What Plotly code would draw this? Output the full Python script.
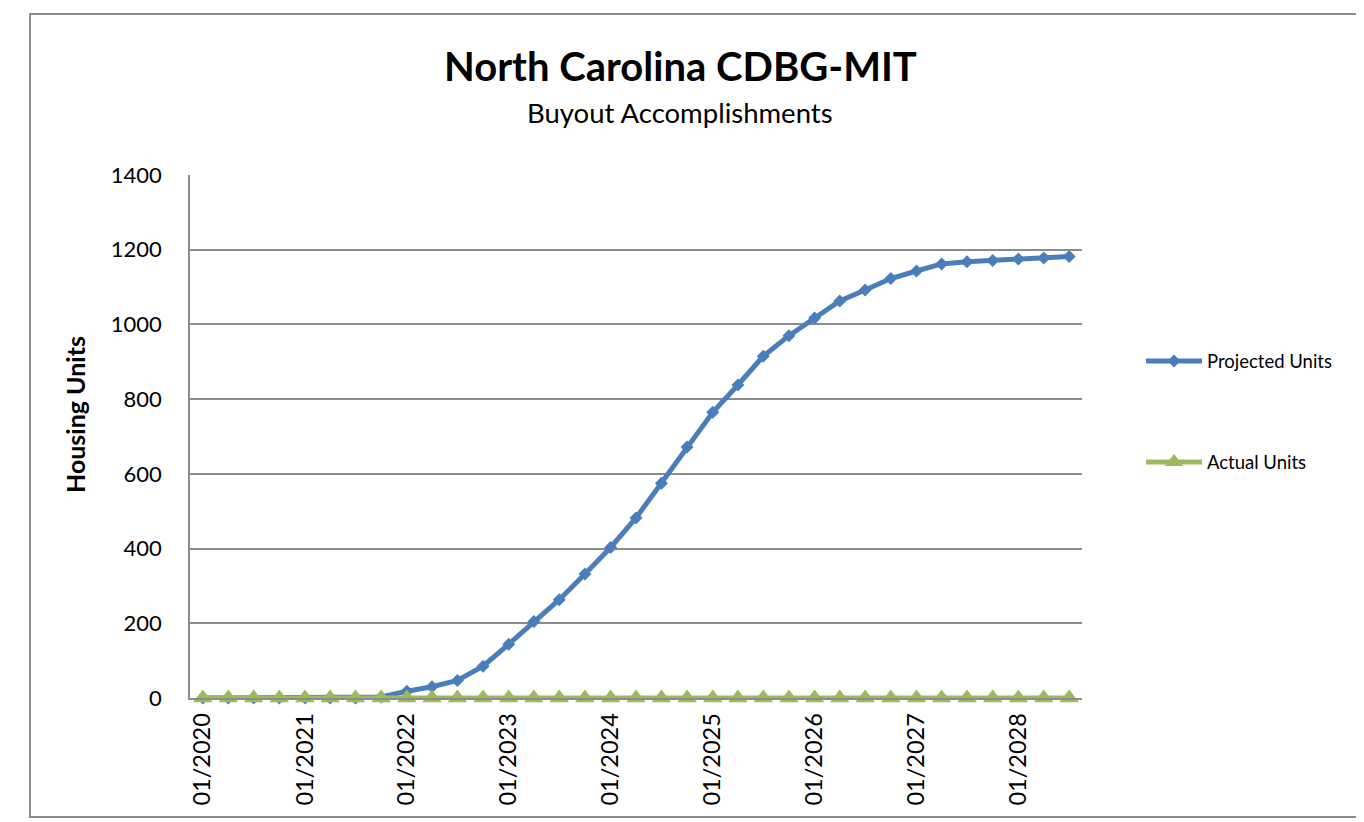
import plotly.graph_objects as go

# Quarterly dates 01/2020 .. 07/2028
dates = [f"{y}-{m:02d}-01" for y in range(2020, 2029) for m in (1, 4, 7, 10)][:35]

projected_units = [0, 0, 0, 0, 0, 0, 0, 3,
                   18, 30, 47, 85,
                   144, 205, 263, 332,
                   403, 482, 575, 672,
                   765, 838, 915, 970,
                   1017, 1063, 1092, 1123,
                   1143, 1162, 1168, 1171,
                   1175, 1178, 1182]
actual_units = [0] * 35

y_ticks = [0, 200, 400, 600, 800, 1000, 1200, 1400]

BLUE = "#4a7ebb"
GREEN = "#9bbb59"
GRID = "#8c8c8c"
FONT = "Lato"

fig = go.Figure()
fig.add_trace(go.Scatter(
    x=dates, y=projected_units, name="Projected Units", mode="lines+markers",
    line=dict(color=BLUE, width=5),
    marker=dict(symbol="diamond", size=10, color=BLUE),
    legendgroup="a", cliponaxis=False,
))
fig.add_trace(go.Scatter(
    x=dates, y=actual_units, name="Actual Units", mode="lines+markers",
    line=dict(color=GREEN, width=5),
    marker=dict(symbol="triangle-up", size=17, color=GREEN, line=dict(width=0)),
    legendgroup="b", cliponaxis=False,
))

OFF = 8  # page body margin
W, H = 1364 - OFF, 822 - OFF
# target page coordinates of plot area
L, R, T, B = 190, 1082, 175, 698
pw, ph = R - L, B - T

def px(x):
    return (x - L) / pw

def py(y):
    return (B - y) / ph

fig.update_layout(
    width=W, height=H,
    margin=dict(l=L - OFF, r=W + OFF - R, t=T - OFF, b=H + OFF - B),
    paper_bgcolor="white", plot_bgcolor="white",
    font=dict(family=FONT, color="black"),
    showlegend=True,
    legend=dict(
        x=px(1141), y=py(412), xanchor="left", yanchor="middle",
        font=dict(size=18.5, family=FONT), tracegroupgap=74,
        itemwidth=56, bgcolor="rgba(0,0,0,0)",
    ),
    xaxis=dict(
        type="date",
        range=["2019-11-16", "2028-08-16"],
        tick0="2020-01-01", dtick="M12", tickformat="%m/%Y",
        tickangle=-90, tickfont=dict(size=23.5, family=FONT),
        showgrid=False, showline=True, linecolor=GRID, linewidth=1.5,
        zeroline=False, ticks="", ticklabelstandoff=4,
    ),
    yaxis=dict(
        range=[0, 1400], tickvals=y_ticks,
        tickfont=dict(size=22, family=FONT),
        showgrid=True, gridcolor=GRID, gridwidth=1.5,
        showline=True, linecolor=GRID, linewidth=1.5,
        zeroline=False, ticks="", ticklabelstandoff=22,
    ),
    annotations=[
        dict(text="<b>North Carolina CDBG-MIT</b>", xref="paper", yref="paper",
             x=px(680), y=py(66), xanchor="center", yanchor="middle",
             showarrow=False, font=dict(size=40, family=FONT)),
        dict(text="Buyout Accomplishments", xref="paper", yref="paper",
             x=px(680), y=py(113), xanchor="center", yanchor="middle",
             showarrow=False, font=dict(size=27.5, family=FONT)),
        dict(text="<b>Housing Units</b>", xref="paper", yref="paper",
             x=px(75), y=py(414), xanchor="center", yanchor="middle",
             textangle=-90, showarrow=False, font=dict(size=25, family=FONT)),
    ],
    shapes=[
        dict(type="rect", xref="paper", yref="paper",
             x0=px(30), x1=px(1366), y0=py(817), y1=py(14),
             line=dict(color=GRID, width=2), fillcolor="rgba(0,0,0,0)", layer="below"),
    ],
)

fig.write_html("out.html")
